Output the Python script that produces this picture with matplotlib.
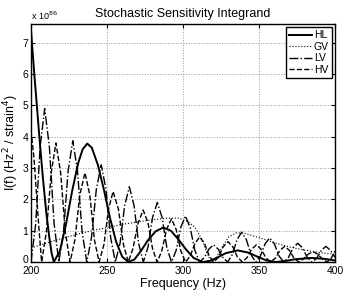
import matplotlib
matplotlib.use("Agg")
import matplotlib.pyplot as plt
import matplotlib.transforms as mtransforms

# ==========================================
# 1. DATOS (unidades de 1e86)
# ==========================================
hl_f = [200, 202, 204, 206, 208, 210, 212, 213.5, 215,
        219, 223, 227, 231, 234, 237, 240, 244, 248, 252, 256, 260, 264,
        268, 272, 277, 282, 287, 292, 297, 302, 307, 313,
        318, 323, 328, 336, 343, 349, 355, 361,
        367, 374, 385, 393, 400]
hl_i = [7.4, 6.1, 4.9, 3.7, 2.6, 1.6, 0.8, 0.3, 0.0,
        0.35, 1.2, 2.25, 3.15, 3.6, 3.78, 3.65, 3.1, 2.3, 1.4, 0.65, 0.17, 0.0,
        0.08, 0.33, 0.7, 0.98, 1.1, 1.0, 0.72, 0.4, 0.13, 0.0,
        0.04, 0.15, 0.28, 0.37, 0.3, 0.17, 0.05, 0.0,
        0.03, 0.09, 0.13, 0.1, 0.05]

gv_f = [200, 210, 220, 230, 240, 250, 260, 270, 280, 290, 297, 303, 308,
        312, 315, 317, 319, 322, 326, 330, 335, 340, 345, 350, 355, 360,
        370, 380, 390, 400]
gv_i = [0.45, 0.6, 0.75, 0.88, 1.0, 1.1, 1.2, 1.28, 1.35, 1.4, 1.4, 1.3, 1.1,
        0.75, 0.4, 0.15, 0.0, 0.15, 0.5, 0.8, 0.93, 0.92, 0.85, 0.78, 0.7, 0.62,
        0.48, 0.38, 0.3, 0.25]

lv_f = [200, 203.1, 206, 209, 212.1, 215.2, 218.3,
        221.4, 224.4, 227.5, 230.6, 233.6, 236.7,
        239.8, 243, 246.2, 249.3, 252.4, 255.5,
        258.6, 261.6, 264.7, 267.8, 270.8, 273.9,
        277, 280, 283.1, 286.2, 289.3, 292.4,
        295.5, 298.5, 301.6, 304.7, 307.8, 310.9,
        314, 317, 320.1, 323.2, 326.3, 329.4,
        332.5, 335.5, 338.6, 341.7, 344.7, 347.8,
        350.9, 354, 357, 360.1, 363.2, 366.3,
        369.4, 372.4, 375.5, 378.6, 381.7, 384.8,
        387.9, 391, 394, 397.1, 400]
lv_i = [0.0, 1.22, 3.67, 4.9, 3.67, 1.22, 0.0,
        0.97, 2.9, 3.87, 2.9, 0.97, 0.0,
        0.78, 2.33, 3.1, 2.33, 0.78, 0.0,
        0.6, 1.8, 2.4, 1.8, 0.6, 0.0,
        0.48, 1.43, 1.9, 1.43, 0.48, 0.0,
        0.37, 1.1, 1.47, 1.1, 0.37, 0.0,
        0.14, 0.41, 0.55, 0.41, 0.14, 0.0,
        0.24, 0.71, 0.95, 0.71, 0.24, 0.0,
        0.19, 0.58, 0.77, 0.58, 0.19, 0.0,
        0.15, 0.45, 0.6, 0.45, 0.15, 0.0,
        0.12, 0.37, 0.5, 0.37, 0.15]

hv_f = [200, 202, 204, 205.5, 207,
        210.1, 213.3, 216.4, 219.5, 222.6, 225.7,
        228.9, 232.1, 235.5, 238.7, 241.7, 244.8,
        248, 251, 254, 257.5, 260.8, 264,
        267, 270.5, 273.8, 277, 280, 283,
        286, 289.2, 292.4, 295.5, 298.6, 301.7,
        304.8, 307.9, 311, 314.1, 317.2, 320.3,
        323.4, 326.5, 329.6, 332.7, 335.8, 339,
        342.1, 345.2, 348.3, 351.4, 354.5, 357.6,
        360.7, 363.8, 366.9, 370, 373.1, 376.2,
        379.3, 382.4, 385.5, 388.6, 391.7, 394.8,
        397.5, 400]
hv_i = [4.2, 3.3, 1.9, 0.9, 0.0,
        0.95, 2.85, 3.8, 2.85, 0.95, 0.0,
        0.71, 2.14, 2.85, 2.14, 0.71, 0.0,
        0.56, 1.69, 2.25, 1.69, 0.56, 0.0,
        0.42, 1.25, 1.66, 1.25, 0.42, 0.0,
        0.35, 1.04, 1.38, 1.04, 0.35, 0.0,
        0.2, 0.6, 0.8, 0.6, 0.2, 0.0,
        0.16, 0.49, 0.65, 0.49, 0.16, 0.0,
        0.14, 0.41, 0.55, 0.41, 0.14, 0.0,
        0.12, 0.37, 0.5, 0.37, 0.12, 0.0,
        0.1, 0.25, 0.33, 0.25, 0.1, 0.0,
        0.12, 0.35]

x_ticks = [200, 250, 300, 350, 400]
y_ticks = [0, 1, 2, 3, 4, 5, 6, 7]

# ==========================================
# 2. FIGURA
# ==========================================
plt.rcParams['font.family'] = ['Liberation Sans', 'DejaVu Sans']

fig = plt.figure(figsize=(3.46, 2.92), dpi=100)
ax = fig.add_axes([0.0896, 0.1027, 0.8786, 0.8153])

ax.plot(hl_f, hl_i, color='black', linestyle='-', linewidth=1.4, label='HL')
ax.plot(gv_f, gv_i, color='black', linestyle=':', linewidth=0.8, label='GV')
ax.plot(lv_f, lv_i, color='black', linestyle='-.', linewidth=1.0, label='LV')
ax.plot(hv_f, hv_i, color='black', linestyle='--', linewidth=1.0, label='HV')

ax.set_xlim(200, 400)
ax.set_ylim(0, 7.6)
ax.set_xticks(x_ticks)
ax.set_yticks(y_ticks)
ax.tick_params(direction='in', top=True, right=True, labelsize=7.5, length=3)
ax.tick_params(axis='x', pad=3)
ax.tick_params(axis='y', pad=2)
ax.grid(True, linestyle=':', color='0.6', linewidth=0.7)
for sp in ax.spines.values():
    sp.set_linewidth(1.0)

# el "0" del eje y se sube un poco para no pisar el "200"
subir = mtransforms.ScaledTranslation(0, 2.5 / 72, fig.dpi_scale_trans)
etiqueta_cero = ax.get_yticklabels()[0]
etiqueta_cero.set_transform(etiqueta_cero.get_transform() + subir)

ax.set_title("Stochastic Sensitivity Integrand", fontsize=9, pad=5)
ax.set_xlabel("Frequency (Hz)", fontsize=9, labelpad=1)
ax.set_ylabel(r"I(f) (Hz$^2$ / strain$^4$)", fontsize=9, labelpad=1)
ax.text(0.0, 1.01, r"x 10$^{86}$", transform=ax.transAxes, fontsize=6.5,
        ha='left', va='bottom')

ax.legend(loc='upper right', fontsize=7.5, frameon=True, fancybox=False,
          edgecolor='black', framealpha=1, handlelength=2.2, handletextpad=0.2,
          borderpad=0.3, labelspacing=0.15, borderaxespad=0.3)

fig.savefig("out.png", dpi=100)
